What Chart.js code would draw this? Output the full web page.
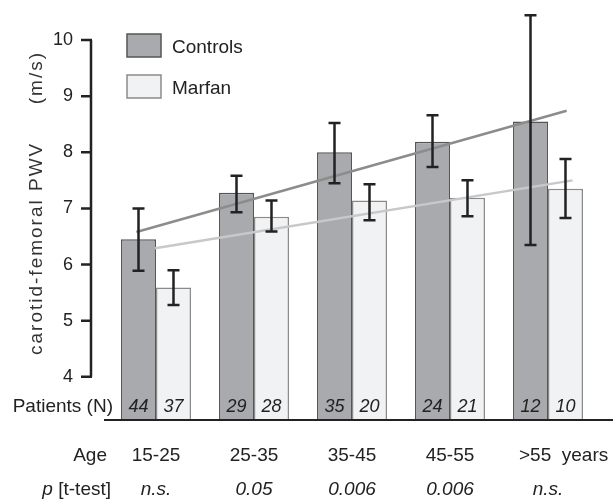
<!DOCTYPE html>
<html>
<head>
<meta charset="utf-8">
<script src="https://cdn.jsdelivr.net/npm/chart.js@4"></script>
<style>
  html, body { margin: 0; padding: 0; background: #fff; }
  canvas { display: block; }
</style>
</head>
<body>
<canvas id="chart" width="613" height="499"></canvas>
<script>
// --- data ---
const ageGroups = ['15-25', '25-35', '35-45', '45-55', '>55'];
const pValues = ['n.s.', '0.05', '0.006', '0.006', 'n.s.'];
const yTicks = [4, 5, 6, 7, 8, 9, 10];

const controlsMean = [6.45, 7.28, 8.0, 8.19, 8.55];
const controlsLow  = [5.89, 6.93, 7.45, 7.74, 6.35];
const controlsHigh = [7.0, 7.58, 8.52, 8.66, 10.44];
const controlsN    = [44, 29, 35, 24, 12];

const marfanMean = [5.59, 6.85, 7.14, 7.19, 7.35];
const marfanLow  = [5.28, 6.59, 6.79, 6.86, 6.83];
const marfanHigh = [5.9, 7.14, 7.43, 7.5, 7.88];
const marfanN    = [37, 28, 20, 21, 10];

// regression lines (x = age group index)
const controlsFit = [{ x: -0.2, y: 6.58 }, { x: 4.19, y: 8.74 }];
const marfanFit   = [{ x: -0.01, y: 6.29 }, { x: 4.25, y: 7.5 }];

const FONT = '"Liberation Sans", Arial, sans-serif';
const INK = '#222';

// errors, counts, axis, legend and table rows
const extras = {
    id: 'extras',
    afterDatasetsDraw(chart) {
        const ctx = chart.ctx;
        const y = chart.scales.y;
        const groups = [
            { low: controlsLow, high: controlsHigh, n: controlsN },
            { low: marfanLow, high: marfanHigh, n: marfanN }
        ];
        ctx.save();
        groups.forEach((g, di) => {
            const meta = chart.getDatasetMeta(di);
            meta.data.forEach((bar, i) => {
                const yl = y.getPixelForValue(g.low[i]);
                const yh = y.getPixelForValue(g.high[i]);
                ctx.strokeStyle = INK;
                ctx.lineWidth = 2.5;
                ctx.beginPath();
                ctx.moveTo(bar.x, yl); ctx.lineTo(bar.x, yh);
                ctx.moveTo(bar.x - 6, yl); ctx.lineTo(bar.x + 6, yl);
                ctx.moveTo(bar.x - 6, yh); ctx.lineTo(bar.x + 6, yh);
                ctx.stroke();

                ctx.fillStyle = INK;
                ctx.font = 'italic 18px ' + FONT;
                ctx.textAlign = 'center';
                ctx.textBaseline = 'alphabetic';
                ctx.fillText(String(g.n[i]), bar.x, 412);
            });
        });
        ctx.restore();
    },
    afterDraw(chart) {
        const ctx = chart.ctx;
        const area = chart.chartArea;
        const y = chart.scales.y;
        const x = chart.scales.x;
        ctx.save();

        // y axis line + tick marks
        const ax = area.left - 16;
        ctx.strokeStyle = INK;
        ctx.lineWidth = 2.5;
        ctx.beginPath();
        ctx.moveTo(ax, y.getPixelForValue(yTicks[0]));
        ctx.lineTo(ax, y.getPixelForValue(yTicks[yTicks.length - 1]));
        yTicks.forEach(v => {
            const py = y.getPixelForValue(v);
            ctx.moveTo(ax - 10, py); ctx.lineTo(ax + 1, py);
        });
        ctx.stroke();

        // baseline
        ctx.lineWidth = 2;
        ctx.beginPath();
        ctx.moveTo(area.left - 3, area.bottom);
        ctx.lineTo(chart.width, area.bottom);
        ctx.stroke();

        // y title
        ctx.fillStyle = '#333';
        ctx.font = '19px ' + FONT;
        ctx.letterSpacing = '2px';
        ctx.translate(42, 0);
        ctx.rotate(-Math.PI / 2);
        ctx.textBaseline = 'alphabetic';
        ctx.textAlign = 'left';
        ctx.fillText('carotid-femoral PWV', -355, 0);
        ctx.textAlign = 'right';
        ctx.fillText('(m/s)', -51, 0);
        ctx.setTransform(1, 0, 0, 1, 0, 0);
        ctx.letterSpacing = '0px';

        // legend
        chart.data.datasets.slice(0, 2).forEach((ds, i) => {
            const top = 34 + i * 41;
            ctx.fillStyle = ds.backgroundColor;
            ctx.fillRect(127, top, 34, 23);
            ctx.strokeStyle = ds.borderColor;
            ctx.lineWidth = 1.5;
            ctx.strokeRect(127, top, 34, 23);
            ctx.fillStyle = INK;
            ctx.font = '19px ' + FONT;
            ctx.textAlign = 'left';
            ctx.fillText(ds.label, 172, top + 19);
        });

        // table rows
        ctx.fillStyle = INK;
        ctx.font = '19px ' + FONT;
        ctx.textAlign = 'right';
        ctx.fillText('Patients (N)', 113, 412);
        ctx.fillText('Age', 107, 461);
        ctx.fillText('[t-test]', 111, 495);
        const w = ctx.measureText('[t-test]').width;
        ctx.font = 'italic 19px ' + FONT;
        ctx.fillText('p ', 111 - w, 495);

        ageGroups.forEach((lab, i) => {
            const cx = x.getPixelForValue(i);
            ctx.font = '19px ' + FONT;
            if (i === ageGroups.length - 1) {
                ctx.textAlign = 'left';
                ctx.fillText(lab + '  years', cx - 29, 461);
            } else {
                ctx.textAlign = 'center';
                ctx.fillText(lab, cx, 461);
            }
            ctx.textAlign = 'center';
            ctx.font = 'italic 19px ' + FONT;
            ctx.fillText(pValues[i], cx, 495);
        });
        ctx.restore();
    }
};

new Chart(document.getElementById('chart'), {
    type: 'bar',
    data: {
        labels: ageGroups,
        datasets: [
            { label: 'Controls', data: controlsMean, backgroundColor: '#a9aaae', borderColor: '#555', borderWidth: 1.5, order: 2 },
            { label: 'Marfan', data: marfanMean, backgroundColor: '#f1f2f3', borderColor: '#8a8a8a', borderWidth: 1.5, order: 2 },
            { type: 'line', label: 'fitC', data: controlsFit, parsing: false, borderColor: '#8c8c8c', borderWidth: 2.5, pointRadius: 0, order: 1 },
            { type: 'line', label: 'fitM', data: marfanFit, parsing: false, borderColor: '#c8c8c8', borderWidth: 2.5, pointRadius: 0, order: 1 }
        ]
    },
    options: {
        responsive: false,
        animation: false,
        layout: { padding: { left: 17, right: 16, top: 12, bottom: 79 } },
        datasets: { bar: { categoryPercentage: 0.714, barPercentage: 1.0 } },
        scales: {
            x: { display: false },
            y: {
                min: 3.23, max: 10.5,
                grid: { display: false },
                border: { display: false },
                afterFit(scale) { scale.width = 90; scale.paddingTop = 0; scale.paddingBottom = 0; },
                afterBuildTicks(scale) { scale.ticks = yTicks.map(v => ({ value: v })); },
                ticks: { color: INK, padding: 26, font: { family: FONT, size: 18 } }
            }
        },
        plugins: { legend: { display: false }, tooltip: { enabled: false } }
    },
    plugins: [extras]
});
</script>
</body>
</html>
